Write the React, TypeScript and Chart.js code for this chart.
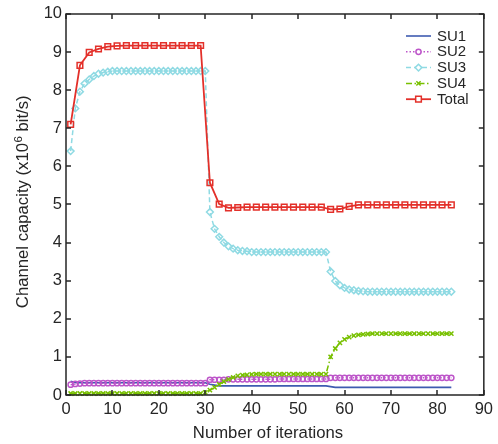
import React, { useEffect, useRef } from "react";
import { Chart, registerables } from "chart.js";
import { drawPoint } from "chart.js/helpers";

Chart.register(...registerables);

// ---- data ----
const iterations = [
  1, 2, 3, 4, 5, 6, 7, 8, 9, 10, 11, 12, 13, 14, 15, 16, 17, 18, 19, 20,
  21, 22, 23, 24, 25, 26, 27, 28, 29, 30, 31, 32, 33, 34, 35, 36, 37, 38, 39, 40,
  41, 42, 43, 44, 45, 46, 47, 48, 49, 50, 51, 52, 53, 54, 55, 56, 57, 58, 59, 60,
  61, 62, 63, 64, 65, 66, 67, 68, 69, 70, 71, 72, 73, 74, 75, 76, 77, 78, 79, 80,
  81, 82, 83,
];

const totalIterations = [
  1, 3, 5, 7, 9, 11, 13, 15, 17, 19, 21, 23, 25, 27, 29, 31, 33, 35, 37, 39,
  41, 43, 45, 47, 49, 51, 53, 55, 57, 59, 61, 63, 65, 67, 69, 71, 73, 75, 77, 79,
  81, 83,
];

const su1 = [
  0.36, 0.33, 0.32, 0.32, 0.32, 0.32, 0.32, 0.32, 0.32, 0.32,
  0.32, 0.32, 0.32, 0.32, 0.32, 0.32, 0.32, 0.32, 0.32, 0.32,
  0.32, 0.32, 0.32, 0.32, 0.32, 0.32, 0.32, 0.32, 0.32, 0.32,
  0.28, 0.26, 0.24, 0.24, 0.24, 0.24, 0.24, 0.24, 0.24, 0.24,
  0.24, 0.24, 0.24, 0.24, 0.24, 0.24, 0.24, 0.24, 0.24, 0.24,
  0.24, 0.24, 0.24, 0.24, 0.24, 0.24, 0.22, 0.20, 0.20, 0.20,
  0.20, 0.20, 0.20, 0.20, 0.20, 0.20, 0.20, 0.20, 0.20, 0.20,
  0.20, 0.20, 0.20, 0.20, 0.20, 0.20, 0.20, 0.20, 0.20, 0.20,
  0.20, 0.20, 0.20,
];

const su2 = [
  0.27, 0.29, 0.30, 0.31, 0.31, 0.31, 0.31, 0.31, 0.31, 0.31,
  0.31, 0.31, 0.31, 0.31, 0.31, 0.31, 0.31, 0.31, 0.31, 0.31,
  0.31, 0.31, 0.31, 0.31, 0.31, 0.31, 0.31, 0.31, 0.31, 0.31,
  0.40, 0.40, 0.40, 0.40, 0.41, 0.41, 0.41, 0.41, 0.41, 0.41,
  0.41, 0.41, 0.41, 0.41, 0.41, 0.42, 0.42, 0.42, 0.42, 0.42,
  0.42, 0.42, 0.42, 0.42, 0.42, 0.42, 0.45, 0.45, 0.45, 0.45,
  0.45, 0.45, 0.45, 0.45, 0.45, 0.45, 0.45, 0.45, 0.45, 0.45,
  0.45, 0.45, 0.45, 0.45, 0.45, 0.45, 0.45, 0.45, 0.45, 0.45,
  0.45, 0.45, 0.45,
];

const su3 = [
  6.40, 7.52, 7.96, 8.17, 8.28, 8.37, 8.43, 8.46, 8.48, 8.50,
  8.50, 8.50, 8.50, 8.50, 8.50, 8.50, 8.50, 8.50, 8.50, 8.50,
  8.50, 8.50, 8.50, 8.50, 8.50, 8.50, 8.50, 8.50, 8.50, 8.50,
  4.80, 4.36, 4.15, 4.00, 3.90, 3.84, 3.80, 3.78, 3.77, 3.75,
  3.75, 3.75, 3.75, 3.75, 3.75, 3.75, 3.75, 3.75, 3.75, 3.75,
  3.75, 3.75, 3.75, 3.75, 3.75, 3.75, 3.24, 2.99, 2.88, 2.81,
  2.77, 2.75, 2.73, 2.72, 2.71, 2.71, 2.71, 2.71, 2.71, 2.71,
  2.71, 2.71, 2.71, 2.71, 2.71, 2.71, 2.71, 2.71, 2.71, 2.71,
  2.71, 2.71, 2.71,
];

const su4 = [
  0.04, 0.04, 0.04, 0.04, 0.04, 0.04, 0.04, 0.04, 0.04, 0.04,
  0.04, 0.04, 0.04, 0.04, 0.04, 0.04, 0.04, 0.04, 0.04, 0.04,
  0.04, 0.04, 0.04, 0.04, 0.04, 0.04, 0.04, 0.04, 0.04, 0.07,
  0.13, 0.20, 0.28, 0.35, 0.41, 0.46, 0.50, 0.52, 0.53, 0.54,
  0.55, 0.55, 0.55, 0.55, 0.55, 0.55, 0.55, 0.55, 0.55, 0.55,
  0.55, 0.55, 0.55, 0.55, 0.55, 0.55, 1.00, 1.22, 1.37, 1.46,
  1.52, 1.56, 1.58, 1.59, 1.60, 1.61, 1.61, 1.61, 1.61, 1.61,
  1.61, 1.61, 1.61, 1.61, 1.61, 1.61, 1.61, 1.61, 1.61, 1.61,
  1.61, 1.61, 1.61,
];

const total = [
  7.10, 8.65, 8.99, 9.08, 9.14, 9.16, 9.17, 9.17, 9.17, 9.17,
  9.17, 9.17, 9.17, 9.17, 9.17, 5.57, 5.01, 4.91, 4.92, 4.93,
  4.93, 4.93, 4.93, 4.93, 4.93, 4.93, 4.93, 4.93, 4.87, 4.88,
  4.95, 4.99, 4.99, 4.99, 4.99, 4.99, 4.99, 4.99, 4.99, 4.99,
  4.99, 4.99,
];

const seriesNames = ["SU1", "SU2", "SU3", "SU4", "Total"];
const xTickValues = [0, 10, 20, 30, 40, 50, 60, 70, 80, 90];
const yTickValues = [0, 1, 2, 3, 4, 5, 6, 7, 8, 9, 10];
const xTitle = "Number of iterations";
const yTitleParts = ["Channel capacity (x10", "6", " bit/s)"];

// ---- styles ----
const FONT = "'Liberation Sans', Arial, Helvetica, sans-serif";
const AXIS_COLOR = "#262626";
const colors = ["#3E5BB0", "#BD55C9", "#8FDAE3", "#78C000", "#E3302A"];
const lineWidths = [1.6, 1.5, 1.5, 1.5, 1.8];
const dashes: number[][] = [[], [1.5, 2], [5, 3], [6, 2.5, 1.5, 2.5], []];
const pointStyles: any[] = [false, "circle", "rectRot", "crossRot", "rect"];
const pointRadii = [0, 2.6, 3.4, 3.0, 4.0];

const toPoints = (xs: number[], ys: number[]) => xs.map((x, i) => ({ x, y: ys[i] }));

const framePlugin = {
  id: "frame",
  afterDatasetsDraw(chart: any) {
    const { ctx, chartArea } = chart;
    const { left, right, top, bottom } = chartArea;
    const xs = chart.scales.x;
    const ys = chart.scales.y;
    const tl = 5;
    ctx.save();
    ctx.strokeStyle = AXIS_COLOR;
    ctx.lineWidth = 1.5;
    ctx.beginPath();
    ctx.rect(left, top, right - left, bottom - top);
    ctx.stroke();
    ctx.beginPath();
    xTickValues.forEach((v) => {
      const px = Math.round(xs.getPixelForValue(v));
      ctx.moveTo(px, bottom);
      ctx.lineTo(px, bottom - tl);
      ctx.moveTo(px, top);
      ctx.lineTo(px, top + tl);
    });
    yTickValues.forEach((v) => {
      const py = Math.round(ys.getPixelForValue(v));
      ctx.moveTo(left, py);
      ctx.lineTo(left + tl, py);
      ctx.moveTo(right, py);
      ctx.lineTo(right - tl, py);
    });
    ctx.stroke();
    ctx.restore();
  },
};

const titlePlugin = {
  id: "axisTitles",
  afterDraw(chart: any) {
    const { ctx } = chart;
    ctx.save();
    ctx.fillStyle = AXIS_COLOR;
    // x title
    ctx.font = `16.7px ${FONT}`;
    ctx.textAlign = "center";
    ctx.textBaseline = "alphabetic";
    ctx.fillText(xTitle, 268, 438);
    // y title with superscript
    const mainFont = `16.7px ${FONT}`;
    const supFont = `11.5px ${FONT}`;
    ctx.font = mainFont;
    const w0 = ctx.measureText(yTitleParts[0]).width;
    const w2 = ctx.measureText(yTitleParts[2]).width;
    ctx.font = supFont;
    const w1 = ctx.measureText(yTitleParts[1]).width;
    const W = w0 + w1 + w2;
    ctx.translate(28, 202);
    ctx.rotate(-Math.PI / 2);
    ctx.textAlign = "left";
    let x = -W / 2;
    ctx.font = mainFont;
    ctx.fillText(yTitleParts[0], x, 0);
    x += w0;
    ctx.font = supFont;
    ctx.fillText(yTitleParts[1], x + 0.5, -6.5);
    x += w1 + 0.5;
    ctx.font = mainFont;
    ctx.fillText(yTitleParts[2], x, 0);
    ctx.restore();
  },
};

const legendPlugin = {
  id: "customLegend",
  afterDraw(chart: any) {
    const { ctx } = chart;
    const x0 = 406;
    const x1 = 431;
    const tx = 437;
    const y0 = 36;
    const dy = 15.8;
    ctx.save();
    seriesNames.forEach((name, i) => {
      const y = y0 + i * dy;
      ctx.strokeStyle = colors[i];
      ctx.lineWidth = lineWidths[i];
      ctx.setLineDash(dashes[i]);
      ctx.beginPath();
      ctx.moveTo(x0, y);
      ctx.lineTo(x1, y);
      ctx.stroke();
      ctx.setLineDash([]);
      if (pointStyles[i]) {
        ctx.save();
        ctx.lineWidth = 1.5;
        ctx.strokeStyle = colors[i];
        ctx.fillStyle = "#ffffff";
        drawPoint(ctx, { pointStyle: pointStyles[i], radius: pointRadii[i], rotation: 0, borderWidth: 1.5 } as any, (x0 + x1) / 2, y);
        ctx.restore();
      }
      ctx.fillStyle = AXIS_COLOR;
      ctx.font = `15px ${FONT}`;
      ctx.textAlign = "left";
      ctx.textBaseline = "middle";
      ctx.fillText(name, tx, y + 0.5);
    });
    ctx.restore();
  },
};

export default function App() {
  const canvasRef = useRef<HTMLCanvasElement | null>(null);

  useEffect(() => {
    if (!canvasRef.current) return;
    const mk = (i: number, xs: number[], ys: number[], order: number) => ({
      label: seriesNames[i],
      data: toPoints(xs, ys),
      borderColor: colors[i],
      backgroundColor: "rgba(0,0,0,0)",
      borderWidth: lineWidths[i],
      borderDash: dashes[i],
      pointStyle: pointStyles[i],
      pointRadius: pointRadii[i],
      pointBorderWidth: 1.5,
      pointBorderColor: colors[i],
      pointBackgroundColor: "rgba(0,0,0,0)",
      tension: 0,
      order,
      clip: 8,
    });
    const datasets = [
      mk(0, iterations, su1, 5),
      mk(1, iterations, su2, 4),
      mk(2, iterations, su3, 3),
      mk(3, iterations, su4, 2),
      mk(4, totalIterations, total, 1),
    ];

    const chart = new Chart(canvasRef.current, {
      type: "line",
      data: { datasets: datasets as any },
      options: {
        animation: false,
        responsive: false,
        devicePixelRatio: 1,
        layout: { padding: { top: 13, right: 11, left: 0, bottom: 0 } },
        plugins: { legend: { display: false }, tooltip: { enabled: false } },
        scales: {
          x: {
            type: "linear",
            min: 0,
            max: 90,
            afterFit: (s: any) => {
              s.height = 49;
            },
            afterBuildTicks: (s: any) => {
              s.ticks = xTickValues.map((v) => ({ value: v }));
            },
            grid: { display: false, drawTicks: false },
            border: { display: false },
            ticks: {
              font: { family: FONT, size: 16.5 },
              color: AXIS_COLOR,
              padding: 5,
              maxRotation: 0,
            },
            title: { display: false },
          },
          y: {
            type: "linear",
            min: 0,
            max: 10,
            afterFit: (s: any) => {
              s.width = 66;
            },
            afterBuildTicks: (s: any) => {
              s.ticks = yTickValues.map((v) => ({ value: v }));
            },
            grid: { display: false, drawTicks: false },
            border: { display: false },
            ticks: {
              font: { family: FONT, size: 16.5 },
              color: AXIS_COLOR,
              padding: 4,
            },
            title: { display: false },
          },
        },
      },
      plugins: [framePlugin, titlePlugin, legendPlugin],
    });
    return () => chart.destroy();
  }, []);

  return (
    <div style={{ position: "fixed", left: 0, top: 0, width: 498, height: 444, background: "#fff" }}>
      <canvas ref={canvasRef} width={498} height={444} style={{ width: 498, height: 444 }} />
    </div>
  );
}
